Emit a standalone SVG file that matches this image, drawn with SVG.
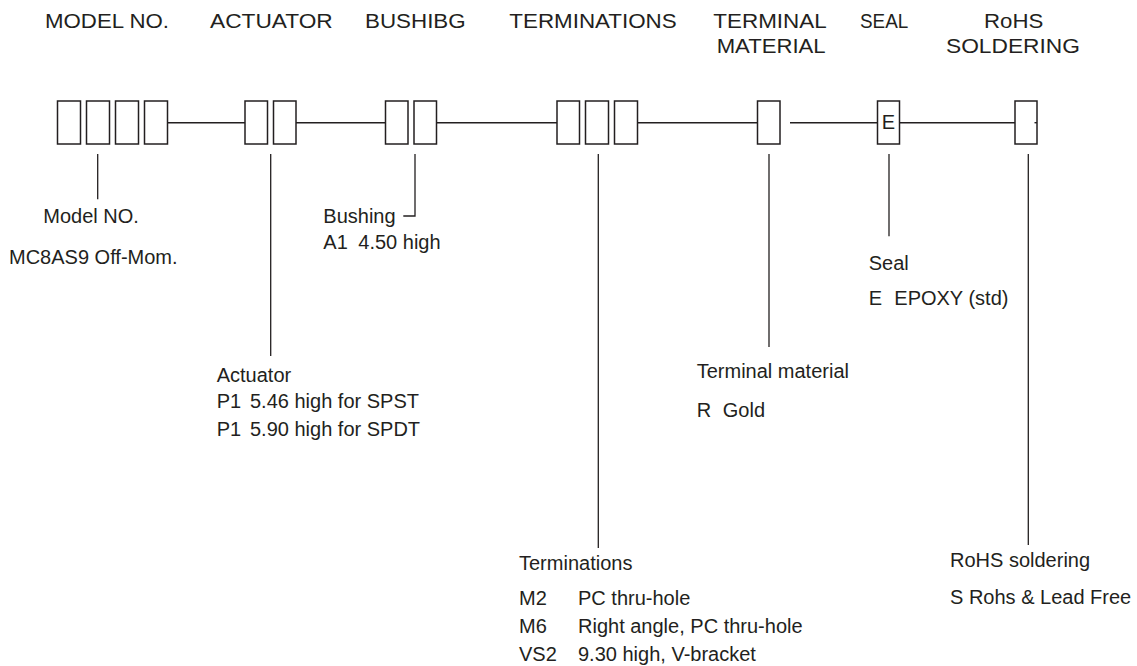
<svg xmlns="http://www.w3.org/2000/svg" width="1137" height="666" viewBox="0 0 1137 666">
<style>
.t{font-family:"Liberation Sans",Arial,sans-serif;font-size:20px;fill:#231f20}
.h{font-family:"Liberation Sans",Arial,sans-serif;font-size:20px;fill:#231f20}
.b{fill:none;stroke:#231f20;stroke-width:1.5}
.c{fill:none;stroke:#231f20;stroke-width:1.4}
.l{fill:none;stroke:#231f20;stroke-width:1.3}
</style>
<rect width="1137" height="666" fill="#fff"/>
<g id="headers">
<text class="h" x="45" y="27.5" textLength="124" lengthAdjust="spacingAndGlyphs">MODEL NO.</text>
<text class="h" x="210" y="27.5" textLength="122.7" lengthAdjust="spacingAndGlyphs">ACTUATOR</text>
<text class="h" x="365" y="27.5" textLength="100.7" lengthAdjust="spacingAndGlyphs">BUSHIBG</text>
<text class="h" x="509.3" y="27.5" textLength="167.4" lengthAdjust="spacingAndGlyphs">TERMINATIONS</text>
<text class="h" x="713.3" y="27.5" textLength="113.4" lengthAdjust="spacingAndGlyphs">TERMINAL</text>
<text class="h" x="716.7" y="53" textLength="109" lengthAdjust="spacingAndGlyphs">MATERIAL</text>
<text class="h" x="860" y="27.5" textLength="48.3" lengthAdjust="spacingAndGlyphs">SEAL</text>
<text class="h" x="984" y="27.5" textLength="59.3" lengthAdjust="spacingAndGlyphs">RoHS</text>
<text class="h" x="946" y="53" textLength="134" lengthAdjust="spacingAndGlyphs">SOLDERING</text>
</g>
<g id="connectors">
<line class="c" x1="167.5" y1="122.7" x2="245" y2="122.7"/>
<line class="c" x1="296" y1="122.7" x2="385.5" y2="122.7"/>
<line class="c" x1="436.5" y1="122.7" x2="557" y2="122.7"/>
<line class="c" x1="637.5" y1="122.7" x2="757.5" y2="122.7"/>
<line class="c" x1="790" y1="122.7" x2="877.5" y2="122.7"/>
<line class="c" x1="899.5" y1="122.7" x2="1015" y2="122.7"/>
<line class="c" x1="1034.5" y1="122.7" x2="1037" y2="122.7"/>
<line class="l" x1="97.7" y1="154" x2="97.7" y2="199.3"/>
<line class="l" x1="270.7" y1="154" x2="270.7" y2="356"/>
<polyline class="l" points="415,154 415,216 403.3,216"/>
<line class="l" x1="598.3" y1="154" x2="598.3" y2="548"/>
<line class="l" x1="769" y1="154" x2="769" y2="347"/>
<line class="l" x1="889" y1="154" x2="889" y2="236.3"/>
<line class="l" x1="1028.3" y1="154" x2="1028.3" y2="545"/>
</g>
<g id="model">
<rect class="b" x="57.5" y="101" width="23" height="43"/>
<rect class="b" x="86.5" y="101" width="23" height="43"/>
<rect class="b" x="115.5" y="101" width="23" height="43"/>
<rect class="b" x="144.5" y="101" width="23" height="43"/>
<text class="t" x="43.3" y="223.3">Model NO.</text>
<text class="t" x="9" y="264.3">MC8AS9 Off-Mom.</text>
</g>
<g id="actuator">
<rect class="b" x="245" y="101" width="22.5" height="43"/>
<rect class="b" x="273.5" y="101" width="22.5" height="43"/>
<text class="t" x="216.7" y="381.7">Actuator</text>
<text class="t" y="408.3"><tspan x="216.7">P1</tspan><tspan x="250">5.46 high for SPST</tspan></text>
<text class="t" y="436"><tspan x="216.7">P1</tspan><tspan x="250">5.90 high for SPDT</tspan></text>
</g>
<g id="bushing">
<rect class="b" x="385.5" y="101" width="22.5" height="43"/>
<rect class="b" x="414" y="101" width="22.5" height="43"/>
<text class="t" x="323.3" y="223.3">Bushing</text>
<text class="t" y="249.3"><tspan x="323.3">A1</tspan><tspan x="358.3">4.50 high</tspan></text>
</g>
<g id="terminations">
<rect class="b" x="557" y="101" width="22.5" height="43"/>
<rect class="b" x="585.5" y="101" width="23" height="43"/>
<rect class="b" x="614.5" y="101" width="23" height="43"/>
<text class="t" x="519" y="570">Terminations</text>
<text class="t" y="605"><tspan x="519">M2</tspan><tspan x="578">PC thru-hole</tspan></text>
<text class="t" y="633"><tspan x="519">M6</tspan><tspan x="578">Right angle, PC thru-hole</tspan></text>
<text class="t" y="661"><tspan x="519">VS2</tspan><tspan x="578">9.30 high, V-bracket</tspan></text>
</g>
<g id="terminal-material">
<rect class="b" x="757.5" y="101" width="22.5" height="43"/>
<text class="t" x="696.7" y="378">Terminal material</text>
<text class="t" y="417"><tspan x="696.7">R</tspan><tspan x="722.8">Gold</tspan></text>
</g>
<g id="seal">
<rect class="b" x="877.5" y="101" width="22" height="43"/>
<text class="t" x="888.5" y="129.3" text-anchor="middle" font-size="19" fill="#444">E</text>
<text class="t" x="868.7" y="270.4">Seal</text>
<text class="t" y="305.4"><tspan x="868.7">E</tspan><tspan x="894.3">EPOXY (std)</tspan></text>
</g>
<g id="rohs">
<rect class="b" x="1015" y="101" width="22" height="43"/>
<text class="t" x="950" y="567">RoHS soldering</text>
<text class="t" x="950" y="604">S Rohs &amp; Lead Free</text>
</g>
</svg>
